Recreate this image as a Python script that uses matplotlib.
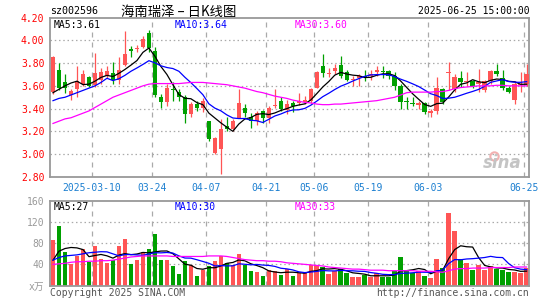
import numpy as np
import pandas as pd
import matplotlib
matplotlib.use('Agg')
import matplotlib.pyplot as plt

# daily k-line data, 2025-02-27 .. 2025-06-25 (80 trading days)
opens = [3.55, 3.74, 3.63, 3.52, 3.57, 3.62, 3.68, 3.61, 3.65, 3.69,
         3.71, 3.65, 3.78, 3.92, 3.92, 3.94, 4.06, 3.91, 3.50, 3.46,
         3.57, 3.55, 3.50, 3.35, 3.44, 3.41, 3.29, 3.01, 3.05, 3.25,
         3.22, 3.32, 3.41, 3.33, 3.29, 3.38, 3.32, 3.42, 3.47, 3.39,
         3.45, 3.45, 3.46, 3.47, 3.58, 3.77, 3.70, 3.73, 3.78, 3.72,
         3.65, 3.665, 3.685, 3.69, 3.72, 3.73, 3.73, 3.69, 3.60, 3.47,
         3.45, 3.43, 3.45, 3.36, 3.38, 3.57, 3.71, 3.57, 3.67, 3.63,
         3.64, 3.62, 3.56, 3.64, 3.73, 3.67, 3.58, 3.48, 3.61, 3.62]
highs = [3.86, 3.80, 3.70, 3.57, 3.77, 3.74, 3.69, 3.89, 3.76, 3.77,
         3.81, 3.85, 4.08, 3.95, 3.96, 4.04, 4.09, 3.94, 3.53, 3.62,
         3.63, 3.57, 3.52, 3.46, 3.47, 3.49, 3.29, 3.15, 3.31, 3.33,
         3.31, 3.57, 3.44, 3.36, 3.38, 3.39, 3.42, 3.57, 3.50, 3.48,
         3.47, 3.54, 3.51, 3.58, 3.73, 3.88, 3.76, 3.79, 3.86, 3.74,
         3.69, 3.70, 3.74, 3.74, 3.77, 3.77, 3.74, 3.72, 3.62, 3.505,
         3.505, 3.47, 3.46, 3.40, 3.68, 3.58, 3.81, 3.70, 3.73, 3.72,
         3.65, 3.75, 3.65, 3.74, 3.79, 3.74, 3.60, 3.64, 3.72, 3.79]
lows = [3.53, 3.56, 3.54, 3.48, 3.50, 3.60, 3.59, 3.59, 3.62, 3.67,
        3.62, 3.62, 3.77, 3.85, 3.90, 3.93, 3.90, 3.50, 3.41, 3.42,
        3.47, 3.47, 3.27, 3.33, 3.38, 3.37, 3.12, 3.00, 2.83, 3.20,
        3.20, 3.32, 3.33, 3.23, 3.26, 3.27, 3.27, 3.41, 3.38, 3.35,
        3.37, 3.43, 3.44, 3.45, 3.58, 3.68, 3.68, 3.70, 3.67, 3.64,
        3.60, 3.60, 3.64, 3.65, 3.69, 3.67, 3.66, 3.56, 3.40, 3.40,
        3.42, 3.40, 3.35, 3.33, 3.35, 3.44, 3.56, 3.55, 3.59, 3.60,
        3.58, 3.55, 3.55, 3.62, 3.69, 3.56, 3.54, 3.44, 3.55, 3.60]
closes = [3.85, 3.58, 3.58, 3.555, 3.64, 3.70, 3.60, 3.71, 3.72, 3.73,
          3.65, 3.74, 3.88, 3.91, 3.93, 4.01, 3.93, 3.52, 3.46, 3.58,
          3.56, 3.50, 3.355, 3.44, 3.41, 3.47, 3.13, 3.14, 3.225, 3.22,
          3.29, 3.45, 3.36, 3.29, 3.36, 3.32, 3.41, 3.43, 3.40, 3.44,
          3.42, 3.47, 3.48, 3.57, 3.72, 3.71, 3.71, 3.76, 3.69, 3.65,
          3.66, 3.685, 3.68, 3.70, 3.74, 3.72, 3.69, 3.60, 3.46, 3.46,
          3.44, 3.45, 3.37, 3.38, 3.58, 3.46, 3.72, 3.68, 3.63, 3.64,
          3.60, 3.63, 3.64, 3.73, 3.70, 3.58, 3.55, 3.62, 3.62, 3.70]
volumes = [86, 112, 63, 40, 55, 70, 45, 74, 50, 42,
           48, 74, 88, 40, 48, 63, 70, 97, 48, 49,
           37, 21, 47, 38, 18, 30, 36, 46, 55, 43,
           38, 60, 38, 27, 26, 18, 29, 28, 20, 31,
           18, 24, 23, 38, 38, 35, 22, 27, 31, 24,
           16, 16, 20, 16, 24, 16, 16, 28, 54, 27,
           24, 28, 18, 14, 51, 33, 138, 104, 50, 42,
           30, 38, 30, 36, 32, 29, 25, 25, 23, 34]

# moving averages need days before the window: first points
ma5_head = [3.54, 3.57, 3.60, 3.625]
ma10_head = [3.47, 3.49, 3.50, 3.52, 3.54, 3.56, 3.58, 3.60, 3.63]
ma30 = [3.27, 3.29, 3.31, 3.32, 3.34, 3.36, 3.38, 3.41, 3.44, 3.47,
        3.50, 3.52, 3.54, 3.56, 3.58, 3.60, 3.615, 3.62, 3.62, 3.62,
        3.62, 3.62, 3.625, 3.63, 3.63, 3.63, 3.625, 3.62, 3.615, 3.61,
        3.60, 3.59, 3.58, 3.565, 3.55, 3.54, 3.525, 3.51, 3.50, 3.49,
        3.475, 3.465, 3.455, 3.45, 3.44, 3.435, 3.435, 3.44, 3.44, 3.445,
        3.45, 3.455, 3.46, 3.465, 3.47, 3.48, 3.49, 3.50, 3.52, 3.54,
        3.545, 3.545, 3.545, 3.545, 3.55, 3.55, 3.56, 3.575, 3.585, 3.59,
        3.595, 3.60, 3.60, 3.60, 3.605, 3.605, 3.60, 3.60, 3.60, 3.60]
vma5_head = [48, 65, 70, 72]
vma10_head = [48, 53, 56, 57, 58, 60, 62, 63, 64]
vma30 = [40, 41, 42, 44, 45, 45, 46, 46, 47, 47,
         48, 50, 52, 54, 55, 56, 56, 56, 56, 56,
         55, 55, 55, 55, 55, 55, 56, 56, 56, 55,
         53, 51, 49, 48, 47, 47, 46, 46, 45, 43,
         42, 41, 40, 39, 38, 37, 35, 34, 33, 32,
         31, 31, 30, 29, 29, 29, 28, 28, 28, 28,
         28, 27, 27, 27, 26, 25, 28, 31, 32, 32,
         33, 33, 33, 34, 34, 34, 34, 35, 35, 35]

tick_idx = [7, 17, 26, 36, 44, 53, 63, 79]
tick_labels = ['2025-03-10', '03-24', '04-07', '04-21', '05-06', '05-19', '06-03', '06-25']
price_ticks = [2.80, 3.00, 3.20, 3.40, 3.60, 3.80, 4.00, 4.20]
vol_ticks = [0, 40, 80, 120, 160]
vol_tick_labels = ['x万', '40', '80', '120', '160']

RED = '#ff5555'
GREEN = '#00a000'
GRID = '#aaaaaa'
MONO = ['DejaVu Sans Mono', 'Noto Sans CJK SC']

W, H = 545, 300


def fx(px):
    return px / W


def fy(py):
    return 1 - py / H


def moving_avg(values, n, head):
    s = pd.Series(values, dtype=float).rolling(n).mean()
    s.iloc[:len(head)] = head
    return s.values


def style_axes(ax):
    for sp in ax.spines.values():
        sp.set_color('#999999')
        sp.set_linewidth(1.3)
    ax.tick_params(length=0)
    for i in tick_idx:
        ax.axvline(i - 0.5, color=GRID, ls=(0, (4, 4)), lw=0.9, zorder=0)


def main():
    x = np.arange(len(closes))
    o = np.array(opens)
    c = np.array(closes)
    up = c >= o
    colors = np.where(up, RED, GREEN)

    fig = plt.figure(figsize=(W / 100, H / 100), dpi=100)
    ax = fig.add_axes([fx(50), fy(177), fx(529) - fx(50), (177 - 17.5) / H])
    axv = fig.add_axes([fx(50), fy(285.5), fx(529) - fx(50), (285.5 - 201) / H])

    # price panel
    style_axes(ax)
    for y in price_ticks[1:-1]:
        ax.axhline(y, color=GRID, ls=(0, (1.2, 2.2)), lw=0.9, zorder=0)
    ax.vlines(x, lows, highs, colors=colors, lw=0.9, zorder=2)
    body_h = np.maximum(np.abs(c - o), 0.009)
    ax.bar(x, body_h, 0.74, bottom=np.minimum(o, c), color=colors, lw=0, zorder=3)
    ax.plot(x, moving_avg(closes, 5, ma5_head), color='black', lw=0.9, zorder=4)
    ax.plot(x, moving_avg(closes, 10, ma10_head), color='#0000ff', lw=0.9, zorder=4)
    ax.plot(x, ma30, color='#ff00ff', lw=0.9, zorder=4)
    ax.set_xlim(-0.5, 79.4)
    ax.set_ylim(2.80, 4.20)
    ax.set_yticks(price_ticks)
    ax.set_yticklabels(['%.2f' % v for v in price_ticks], color='#ff0000',
                       family=MONO, fontsize=7)
    ax.set_xticks([i - 0.5 for i in tick_idx])
    ax.set_xticklabels(tick_labels, color='#1c7fd0', family=MONO, fontsize=7)
    ax.tick_params(axis='y', pad=4)
    ax.tick_params(axis='x', pad=4)
    ax.text(0.985, 0.09, 'sina', transform=ax.transAxes, ha='right', va='center',
            fontsize=12, fontweight='bold', style='italic', color='#c4c4c4')
    ax.plot([73.6], [2.985], 'o', ms=6, mfc='none', mec='#f2b0b0', mew=1.5)

    # volume panel
    style_axes(axv)
    for y in vol_ticks[1:-1]:
        axv.axhline(y, color=GRID, ls=(0, (1.2, 2.2)), lw=0.9, zorder=0)
    axv.bar(x, volumes, 0.76, color=colors, lw=0, zorder=2)
    axv.plot(x, moving_avg(volumes, 5, vma5_head), color='black', lw=0.9, zorder=3)
    axv.plot(x, moving_avg(volumes, 10, vma10_head), color='#0000ff', lw=0.9, zorder=3)
    axv.plot(x, vma30, color='#ff00ff', lw=0.9, zorder=3)
    axv.set_xlim(-0.5, 79.4)
    axv.set_ylim(0, 160)
    axv.set_xticks([])
    axv.set_yticks(vol_ticks)
    axv.set_yticklabels(vol_tick_labels, color='#999999', family=MONO, fontsize=7)
    axv.tick_params(axis='y', pad=4)

    # header and legends
    fig.text(fx(50), fy(11.5), 'sz002596', family=MONO, fontsize=7.2, va='center')
    fig.text(fx(121), fy(11.5), '海南瑞泽 – 日K线图', family=['Noto Sans CJK SC', 'DejaVu Sans'],
             fontsize=9.6, va='center')
    fig.text(fx(530), fy(11.5), '2025-06-25 15:00:00', family=MONO, fontsize=7,
             va='center', ha='right')
    fig.text(fx(54), fy(24.5), 'MA5:3.61', family=MONO, fontsize=7, va='center', color='black')
    fig.text(fx(175), fy(24.5), 'MA10:3.64', family=MONO, fontsize=7, va='center', color='#0000ff')
    fig.text(fx(295), fy(24.5), 'MA30:3.60', family=MONO, fontsize=7, va='center', color='#ff00ff')
    fig.text(fx(54), fy(207), 'MA5:27', family=MONO, fontsize=7, va='center', color='black')
    fig.text(fx(175), fy(207), 'MA10:30', family=MONO, fontsize=7, va='center', color='#0000ff')
    fig.text(fx(295), fy(207), 'MA30:33', family=MONO, fontsize=7, va='center', color='#ff00ff')
    fig.text(fx(50), fy(293), 'Copyright 2025 SINA.COM', family=MONO, fontsize=7,
             va='center', color='#555555')
    fig.text(fx(529), fy(293), 'http://finance.sina.com.cn', family=MONO, fontsize=7,
             va='center', ha='right', color='#555555')

    fig.savefig('out.png', dpi=100)


main()
